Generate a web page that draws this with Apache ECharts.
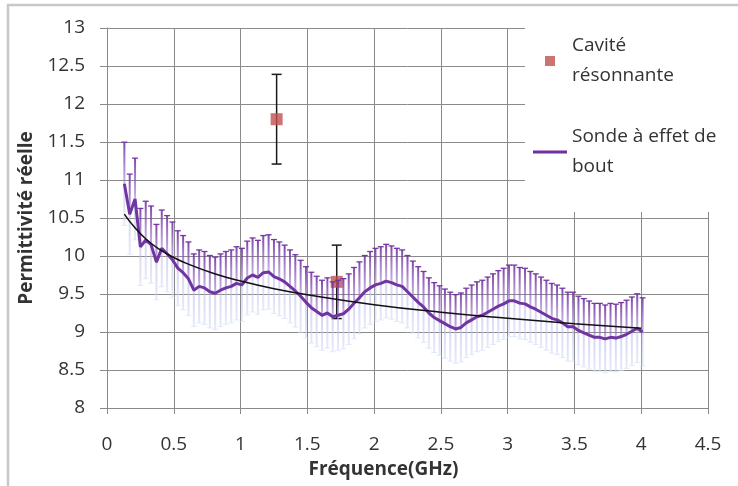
<!DOCTYPE html>
<html>
<head>
<meta charset="utf-8">
<script src="https://cdn.jsdelivr.net/npm/echarts@6/dist/echarts.min.js"></script>
<style>
  html, body { margin: 0; padding: 0; background: #fff; }
  #chart { width: 738px; height: 486px; }
</style>
</head>
<body>
<div id="chart"></div>
<script>
// ---------------- DATA ----------------
const xTitle = 'Fréquence(GHz)';
const yTitle = 'Permittivité réelle';
const cavityName = 'Cavité résonnante';
const probeName = 'Sonde à effet de bout';

// Error bars: percentage of the value (Excel "percentage" error bars)
const errorPercent = 5;

// Cavité résonnante
const cavityFreq = [1.27, 1.72];
const cavityPerm = [11.8, 9.66];

// Sonde à effet de bout
const probeFreq = [
  0.13, 0.17, 0.21, 0.25, 0.29, 0.33, 0.37, 0.41, 0.45, 0.49,
  0.53, 0.57, 0.61, 0.65, 0.69, 0.73, 0.77, 0.81, 0.85, 0.89,
  0.93, 0.97, 1.01, 1.05, 1.09, 1.13, 1.17, 1.21, 1.25, 1.29,
  1.33, 1.37, 1.41, 1.45, 1.49, 1.53, 1.57, 1.61, 1.65, 1.69,
  1.73, 1.77, 1.81, 1.85, 1.89, 1.93, 1.97, 2.01, 2.05, 2.09,
  2.13, 2.17, 2.21, 2.25, 2.29, 2.33, 2.37, 2.41, 2.45, 2.49,
  2.53, 2.57, 2.61, 2.65, 2.69, 2.73, 2.77, 2.81, 2.85, 2.89,
  2.93, 2.97, 3.01, 3.05, 3.09, 3.13, 3.17, 3.21, 3.25, 3.29,
  3.33, 3.37, 3.41, 3.45, 3.49, 3.53, 3.57, 3.61, 3.65, 3.69,
  3.73, 3.77, 3.81, 3.85, 3.89, 3.93, 3.97, 4.01
];
const probePerm = [
  10.95, 10.55, 10.75, 10.12, 10.21, 10.15, 9.92, 10.10, 10.03, 9.95,
  9.84, 9.78, 9.70, 9.55, 9.60, 9.58, 9.53, 9.51, 9.55, 9.58,
  9.60, 9.64, 9.62, 9.71, 9.75, 9.72, 9.78, 9.79, 9.73, 9.70,
  9.66, 9.60, 9.54, 9.47, 9.39, 9.32, 9.27, 9.22, 9.25, 9.20,
  9.22, 9.24, 9.30, 9.38, 9.45, 9.53, 9.58, 9.62, 9.64, 9.67,
  9.65, 9.62, 9.60, 9.53, 9.46, 9.39, 9.33, 9.25, 9.19, 9.15,
  9.11, 9.07, 9.04, 9.06, 9.12, 9.16, 9.20, 9.22, 9.26, 9.30,
  9.34, 9.37, 9.41, 9.41, 9.38, 9.37, 9.33, 9.30, 9.26, 9.22,
  9.18, 9.16, 9.12, 9.07, 9.07, 9.02, 8.99, 8.96, 8.93, 8.93,
  8.91, 8.93, 8.92, 8.94, 8.97, 9.01, 9.05, 9.00
];

// Trend line
const trendFreq = [0.13, 0.2, 0.3, 0.4, 0.5, 0.6, 0.8, 1.0, 1.25, 1.5, 2.0, 2.5, 3.0, 3.5, 4.0];
const trendPerm = [10.55, 10.39, 10.21, 10.08, 9.98, 9.90, 9.77, 9.67, 9.57, 9.49, 9.36, 9.26, 9.18, 9.11, 9.05];

// Axes
const xMin = 0, xMax = 4.5, xStep = 0.5;
const yMin = 8, yMax = 13, yStep = 0.5;

// ---------------- CHART ----------------
const FONT = '"Open Sans", Lato, sans-serif';
const TXT = '#333333';
const GRID = '#8a8a8a';

const pair = (xs, ys) => xs.map((x, i) => [x, ys[i]]);
const withErr = (xs, ys) => xs.map((x, i) => {
  const e = ys[i] * errorPercent / 100;
  return [x, ys[i] - e, ys[i] + e];
});

const chart = echarts.init(document.getElementById('chart'));

function probeErrRender(params, api) {
  const x = api.value(0);
  const hi = api.coord([x, api.value(2)]);
  const lo = api.coord([x, api.value(1)]);
  const cap = 3;
  return {
    type: 'group',
    children: [
      {
        type: 'line',
        shape: { x1: hi[0], y1: hi[1], x2: lo[0], y2: lo[1] },
        style: {
          lineWidth: 2,
          stroke: new echarts.graphic.LinearGradient(0, 0, 0, 1, [
            { offset: 0, color: 'rgba(112,48,160,0.9)' },
            { offset: 0.45, color: 'rgba(150,110,200,0.6)' },
            { offset: 0.55, color: 'rgba(185,185,232,0.55)' },
            { offset: 1, color: 'rgba(212,222,245,0.6)' }
          ])
        }
      },
      {
        type: 'line',
        shape: { x1: hi[0] - cap, y1: hi[1], x2: hi[0] + cap, y2: hi[1] },
        style: { stroke: 'rgba(112,48,160,0.95)', lineWidth: 1.3 }
      },
      {
        type: 'line',
        shape: { x1: lo[0] - cap, y1: lo[1], x2: lo[0] + cap, y2: lo[1] },
        style: { stroke: 'rgba(212,222,245,0.6)', lineWidth: 1 }
      }
    ]
  };
}

function cavityErrRender(params, api) {
  const x = api.value(0);
  const hi = api.coord([x, api.value(2)]);
  const lo = api.coord([x, api.value(1)]);
  const cap = 5;
  return {
    type: 'group',
    children: [
      { type: 'line', shape: { x1: hi[0], y1: hi[1], x2: lo[0], y2: lo[1] }, style: { stroke: '#1a1a1a', lineWidth: 1.5 } },
      { type: 'line', shape: { x1: hi[0] - cap, y1: hi[1], x2: hi[0] + cap, y2: hi[1] }, style: { stroke: '#1a1a1a', lineWidth: 1.5 } },
      { type: 'line', shape: { x1: lo[0] - cap, y1: lo[1], x2: lo[0] + cap, y2: lo[1] }, style: { stroke: '#1a1a1a', lineWidth: 1.5 } }
    ]
  };
}

const legendLabels = {};
legendLabels[cavityName] = 'Cavité\nrésonnante';
legendLabels[probeName] = 'Sonde à effet de\nbout';

const option = {
  backgroundColor: '#fff',
  animation: false,
  textStyle: { fontFamily: FONT },
  grid: { left: 107, right: 30, top: 28, bottom: 78, containLabel: false },
  graphic: [
    { type: 'rect', z: 1, shape: { x: 525, y: 18, width: 190, height: 194 }, style: { fill: '#fff' } },
    { type: 'rect', z: 10, shape: { x: 8, y: 5, width: 780, height: 520 }, style: { fill: 'none', stroke: '#c8c8c8', lineWidth: 2.5 } }
  ],
  legend: {
    orient: 'vertical',
    left: 533,
    top: 16,
    padding: 0,
    itemGap: 1,
    itemWidth: 34,
    itemHeight: 10,
    symbolKeepAspect: true,
    selectedMode: false,
    formatter: name => legendLabels[name],
    textStyle: { fontFamily: FONT, fontSize: 19, lineHeight: 30, color: TXT, padding: [30, 0, 0, 0] },
    data: [
      { name: cavityName, icon: 'path://M0,0H10V10H0Z', itemStyle: { color: '#c0504d' } },
      { name: probeName, icon: 'path://M0,0H34V3H0Z', itemStyle: { color: '#7030a0' } }
    ]
  },
  xAxis: {
    type: 'value',
    min: xMin, max: xMax, interval: xStep,
    name: xTitle,
    nameLocation: 'middle',
    nameGap: 52,
    nameTextStyle: { fontFamily: FONT, fontSize: 19, fontWeight: 'bold', color: TXT, padding: [0, 48, 0, 0] },
    axisLine: { show: true, lineStyle: { color: GRID, width: 1 } },
    axisTick: { show: true, length: 6, lineStyle: { color: GRID } },
    axisLabel: { fontFamily: FONT, fontSize: 19, color: TXT, margin: 27 },
    splitLine: { show: true, lineStyle: { color: GRID, width: 1 } }
  },
  yAxis: {
    type: 'value',
    min: yMin, max: yMax, interval: yStep,
    name: yTitle,
    nameLocation: 'middle',
    nameGap: 66,
    nameTextStyle: { fontFamily: FONT, fontSize: 19, fontWeight: 'bold', color: TXT },
    axisLine: { show: true, lineStyle: { color: GRID, width: 1 } },
    axisTick: { show: true, length: 7, lineStyle: { color: GRID } },
    axisLabel: { fontFamily: FONT, fontSize: 19, color: TXT, margin: 22 },
    splitLine: { show: true, lineStyle: { color: GRID, width: 1 } }
  },
  series: [
    {
      name: cavityName + ' err',
      type: 'custom',
      renderItem: cavityErrRender,
      data: withErr(cavityFreq, cavityPerm),
      encode: { x: 0, y: [1, 2] },
      z: 2,
      silent: true
    },
    {
      name: cavityName,
      type: 'scatter',
      symbol: 'rect',
      symbolSize: 12,
      itemStyle: { color: '#c0504d' },
      data: pair(cavityFreq, cavityPerm),
      z: 3
    },
    {
      name: probeName + ' err',
      type: 'custom',
      renderItem: probeErrRender,
      data: withErr(probeFreq, probePerm),
      encode: { x: 0, y: [1, 2] },
      z: 4,
      silent: true
    },
    {
      name: probeName,
      type: 'line',
      showSymbol: false,
      symbol: 'none',
      lineStyle: { color: '#6f35a0', width: 3 },
      itemStyle: { color: '#7030a0' },
      data: pair(probeFreq, probePerm),
      z: 5
    },
    {
      name: 'Tendance',
      type: 'line',
      smooth: true,
      showSymbol: false,
      symbol: 'none',
      lineStyle: { color: '#111', width: 1.5 },
      data: pair(trendFreq, trendPerm),
      z: 6
    }
  ]
};

chart.setOption(option);
</script>
</body>
</html>
